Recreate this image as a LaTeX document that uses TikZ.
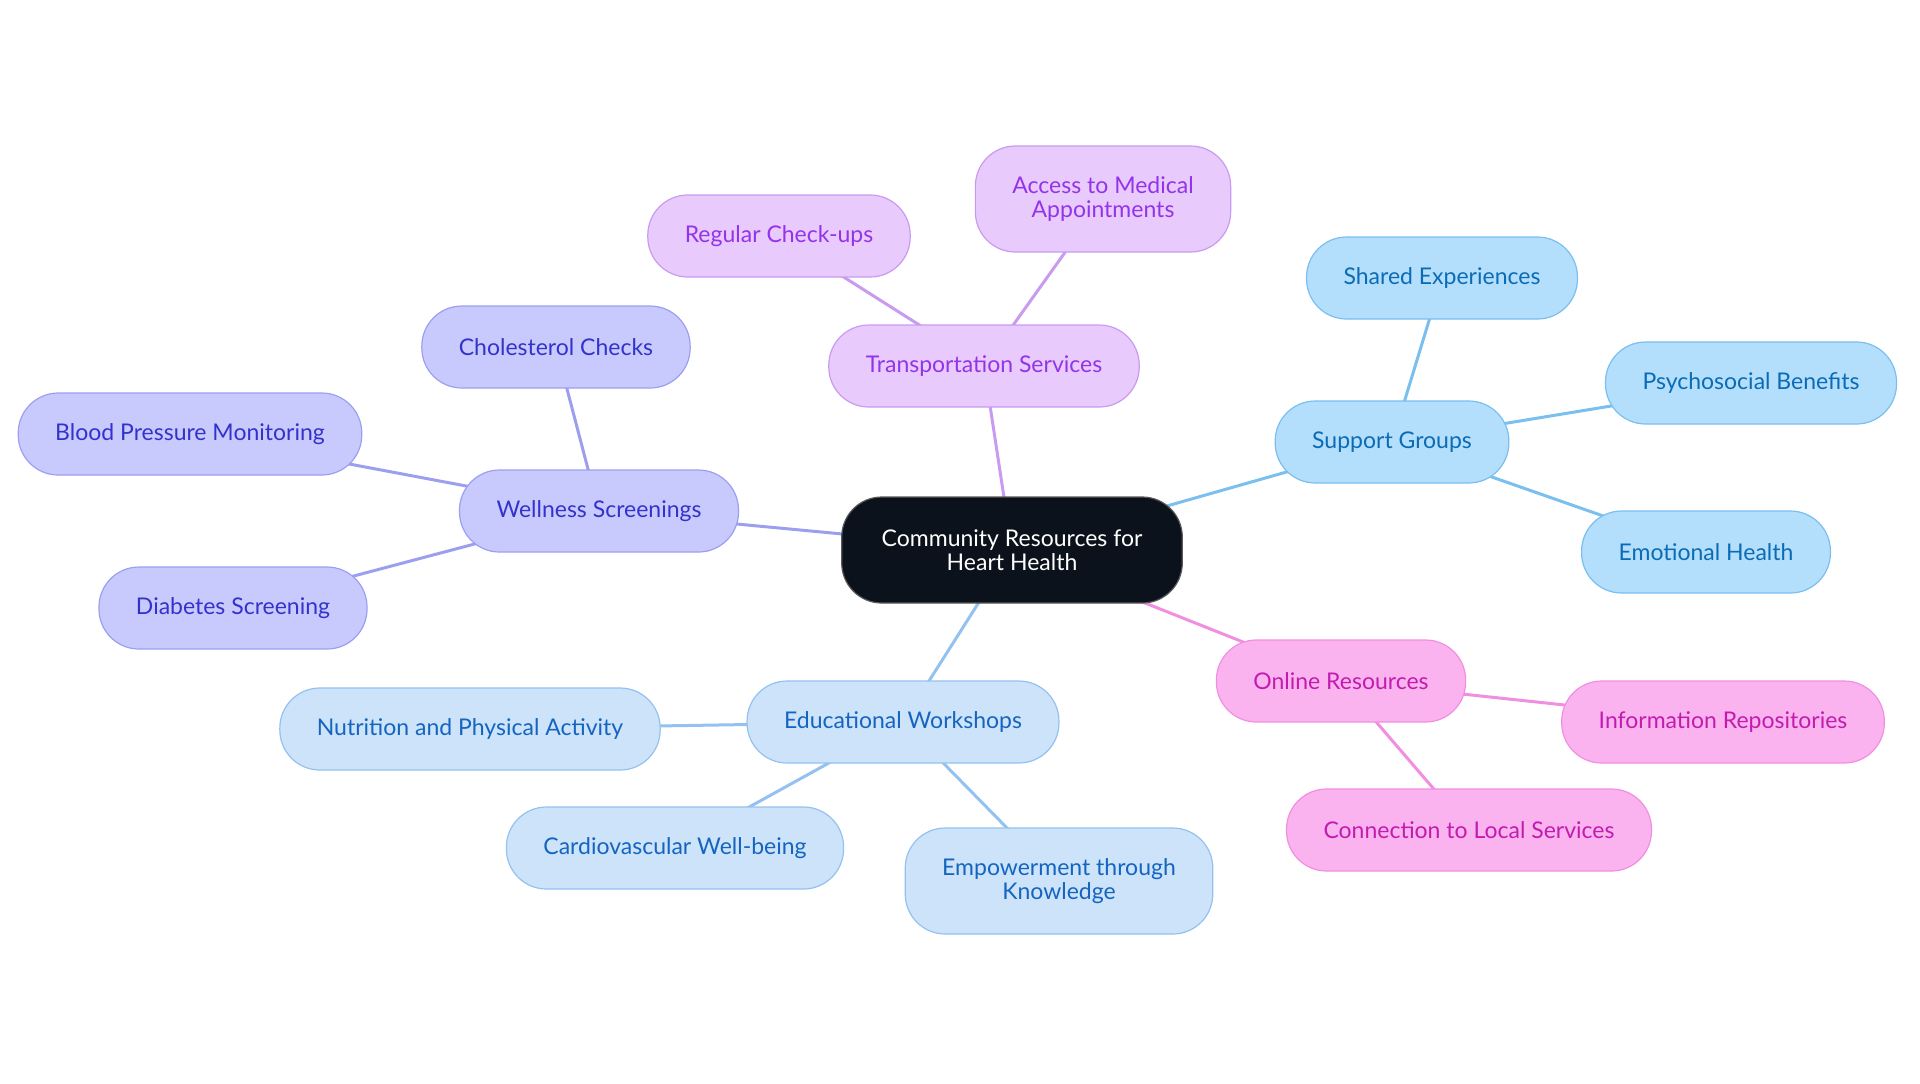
\documentclass[tikz,border=0pt]{standalone}
\usepackage{fontspec}
\setmainfont{Lato}
\usetikzlibrary{backgrounds}

\definecolor{hubfill}{HTML}{0C121C}
\definecolor{wellfill}{HTML}{C8CAFD}
\definecolor{welldraw}{HTML}{9C9FF0}
\definecolor{welltext}{HTML}{3333CC}
\definecolor{supfill}{HTML}{B3DEFC}
\definecolor{supdraw}{HTML}{7BBFEF}
\definecolor{suptext}{HTML}{0B6CB5}
\definecolor{onfill}{HTML}{FBB3F0}
\definecolor{ondraw}{HTML}{F08FE0}
\definecolor{ontext}{HTML}{C21CAF}
\definecolor{trfill}{HTML}{E8CBFC}
\definecolor{trdraw}{HTML}{C99BF0}
\definecolor{trtext}{HTML}{9333EA}
\definecolor{edfill}{HTML}{CCE3FA}
\definecolor{eddraw}{HTML}{94C2F0}
\definecolor{edtext}{HTML}{1565C0}

\tikzset{
  pill/.style={rounded corners=20pt, minimum height=41pt, inner xsep=18.5pt,
    align=center, line width=0.6pt, font=\fontsize{11.5}{12.3}\selectfont},
  hub/.style={pill, fill=hubfill, draw=gray!70!black, text=white, inner xsep=20pt, minimum height=53pt},
  wellbox/.style={pill, fill=wellfill, draw=welldraw, text=welltext},
  supbox/.style={pill, fill=supfill, draw=supdraw, text=suptext},
  onbox/.style={pill, fill=onfill, draw=ondraw, text=ontext},
  trbox/.style={pill, fill=trfill, draw=trdraw, text=trtext},
  edbox/.style={pill, fill=edfill, draw=eddraw, text=edtext},
  link/.style={line width=1.5pt}
}

\begin{document}
\begin{tikzpicture}[x=0.5pt,y=-0.5pt]
\useasboundingbox (0,0) rectangle (1920,1083);

% centre
\node[hub] (hub) at (1012,550) {Community Resources for\\Heart Health};

% transportation
\node[trbox] (trans) at (984,366) {Transportation Services};
\node[trbox] (checkups) at (779,236) {Regular Check-ups};
\node[trbox, minimum height=53pt] (access) at (1103,199) {Access to Medical\\Appointments};

% support
\node[supbox] (support) at (1392,442) {Support Groups};
\node[supbox] (shared) at (1442,278) {Shared Experiences};
\node[supbox] (psycho) at (1751,383) {Psychosocial Benefits};
\node[supbox] (emotion) at (1706,552) {Emotional Health};

% online
\node[onbox] (online) at (1341,681) {Online Resources};
\node[onbox] (repos) at (1723,722) {Information Repositories};
\node[onbox] (local) at (1469,830) {Connection to Local Services};

% education
\node[edbox] (edu) at (903,722) {Educational Workshops};
\node[edbox] (nutri) at (470,729) {Nutrition and Physical Activity};
\node[edbox] (cardio) at (675,848) {Cardiovascular Well-being};
\node[edbox, minimum height=53pt] (empower) at (1059,881) {Empowerment through\\Knowledge};

% wellness
\node[wellbox] (well) at (599,511) {Wellness Screenings};
\node[wellbox] (chol) at (556,347) {Cholesterol Checks};
\node[wellbox] (blood) at (190,434) {Blood Pressure Monitoring};
\node[wellbox] (diab) at (233,608) {Diabetes Screening};

% links, behind the boxes
\begin{scope}[on background layer]
\draw[link, trdraw] (hub.center) -- (trans.center);
\draw[link, trdraw] (trans.center) -- (checkups.center);
\draw[link, trdraw] (trans.center) -- (access.center);

\draw[link, supdraw] (hub.center) -- (support.center);
\draw[link, supdraw] (support.center) -- (shared.center);
\draw[link, supdraw] (support.center) -- (psycho.center);
\draw[link, supdraw] (support.center) -- (emotion.center);

\draw[link, ondraw] (hub.center) -- (online.center);
\draw[link, ondraw] (online.center) -- (repos.center);
\draw[link, ondraw] (online.center) -- (local.center);

\draw[link, eddraw] (hub.center) -- (edu.center);
\draw[link, eddraw] (edu.center) -- (nutri.center);
\draw[link, eddraw] (edu.center) -- (cardio.center);
\draw[link, eddraw] (edu.center) -- (empower.center);

\draw[link, welldraw] (hub.center) -- (well.center);
\draw[link, welldraw] (well.center) -- (chol.center);
\draw[link, welldraw] (well.center) -- (blood.center);
\draw[link, welldraw] (well.center) -- (diab.center);
\end{scope}

\end{tikzpicture}
\end{document}
